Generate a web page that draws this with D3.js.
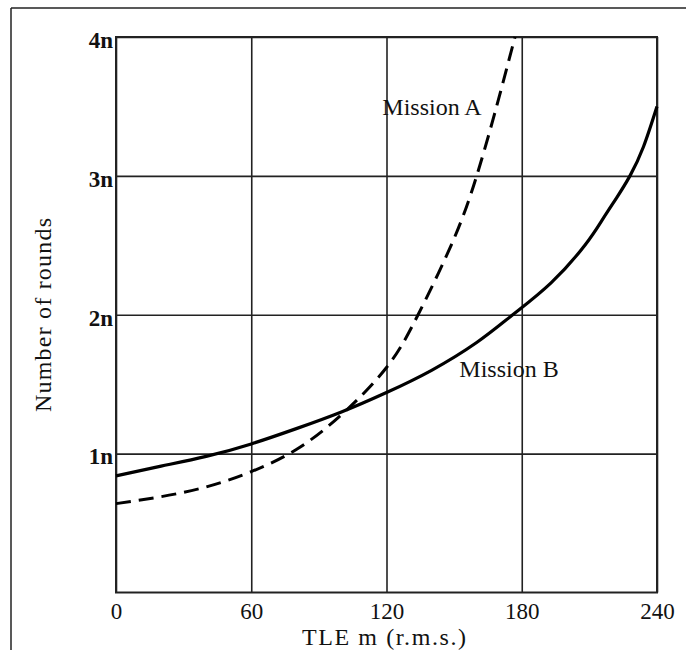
<!DOCTYPE html>
<html>
<head>
<meta charset="utf-8">
<script src="https://cdn.jsdelivr.net/npm/d3@7"></script>
<style>
  body { margin: 0; background: #fff; }
  text { font-family: "Liberation Serif", "DejaVu Serif", serif; fill: #111; }
</style>
</head>
<body>
<div id="chart"></div>
<script>
// values (x in TLE m, y in units of n)
const xTicks = [0, 60, 120, 180, 240];
const yTicks = [1, 2, 3, 4];
const yTickLabels = ["1n", "2n", "3n", "4n"];

const missionA_x = [0, 20, 40, 60, 80, 100, 120, 134, 150, 160, 168, 177];
const missionA_y = [0.64, 0.69, 0.76, 0.87, 1.03, 1.28, 1.62, 2.0, 2.55, 3.0, 3.45, 4.0];

const missionB_x = [0, 20, 40, 60, 80, 100, 120, 140, 160, 176, 193, 208, 216, 222, 228, 234, 240];
const missionB_y = [0.84, 0.91, 0.98, 1.07, 1.18, 1.30, 1.44, 1.6, 1.8, 2.0, 2.23, 2.5, 2.69, 2.84, 3.0, 3.21, 3.5];

const W = 686, H = 650;
const mLeft = 116, mRight = 657, mTop = 37, mBottom = 592.5;

const svg = d3.select("#chart").append("svg")
    .attr("width", W)
    .attr("height", H);

// outer frame of the scanned figure
svg.append("line").attr("x1", 11).attr("x2", 11).attr("y1", 8).attr("y2", H)
    .attr("stroke", "#222").attr("stroke-width", 1.5);
svg.append("line").attr("x1", 11).attr("x2", W).attr("y1", 8).attr("y2", 8)
    .attr("stroke", "#222").attr("stroke-width", 1.5);

const x = d3.scaleLinear().domain([0, 240]).range([mLeft, mRight]);
const y = d3.scaleLinear().domain([0, 4]).range([mBottom, mTop]);

// grid + tick labels
const xAxis = svg.append("g")
    .attr("transform", `translate(0,${mBottom})`)
    .call(d3.axisBottom(x).tickValues(xTicks).tickSize(-(mBottom - mTop)).tickSizeOuter(0).tickPadding(10));
xAxis.select(".domain").remove();
xAxis.selectAll("line").attr("stroke", "#222").attr("stroke-width", 1.6);
xAxis.selectAll("text").attr("font-size", 23).attr("font-family", null);

const yAxis = svg.append("g")
    .attr("transform", `translate(${mLeft},0)`)
    .call(d3.axisLeft(y).tickValues(yTicks).tickFormat((d, i) => yTickLabels[i])
        .tickSize(-(mRight - mLeft)).tickSizeOuter(0).tickPadding(3));
yAxis.select(".domain").remove();
yAxis.selectAll("line").attr("stroke", "#222").attr("stroke-width", 1.6);
yAxis.selectAll("text").attr("font-size", 23).attr("font-family", null)
    .attr("dy", "0.45em").style("font-weight", "bold");

// plot border
svg.append("rect")
    .attr("x", mLeft).attr("y", mTop)
    .attr("width", mRight - mLeft).attr("height", mBottom - mTop)
    .attr("fill", "none").attr("stroke", "#222").attr("stroke-width", 2);

const line = d3.line()
    .x(d => x(d[0]))
    .y(d => y(d[1]))
    .curve(d3.curveNatural);

svg.append("path")
    .datum(missionA_x.map((v, i) => [v, missionA_y[i]]))
    .attr("d", line)
    .attr("fill", "none")
    .attr("stroke", "#000")
    .attr("stroke-width", 3)
    .attr("stroke-dasharray", "15,8");

svg.append("path")
    .datum(missionB_x.map((v, i) => [v, missionB_y[i]]))
    .attr("d", line)
    .attr("fill", "none")
    .attr("stroke", "#000")
    .attr("stroke-width", 3.2);

// curve labels
svg.append("text").attr("x", 432).attr("y", 115)
    .attr("text-anchor", "middle").attr("font-size", 24)
    .text("Mission A");
svg.append("text").attr("x", 509).attr("y", 377)
    .attr("text-anchor", "middle").attr("font-size", 24)
    .text("Mission B");

// axis titles
svg.append("text").attr("x", 384).attr("y", 645)
    .attr("text-anchor", "middle").attr("font-size", 24)
    .attr("textLength", 164).attr("lengthAdjust", "spacing")
    .text("TLE m (r.m.s.)");
svg.append("text")
    .attr("transform", "translate(51,315) rotate(-90)")
    .attr("text-anchor", "middle").attr("font-size", 24)
    .attr("textLength", 194).attr("lengthAdjust", "spacing")
    .text("Number of rounds");
</script>
</body>
</html>
